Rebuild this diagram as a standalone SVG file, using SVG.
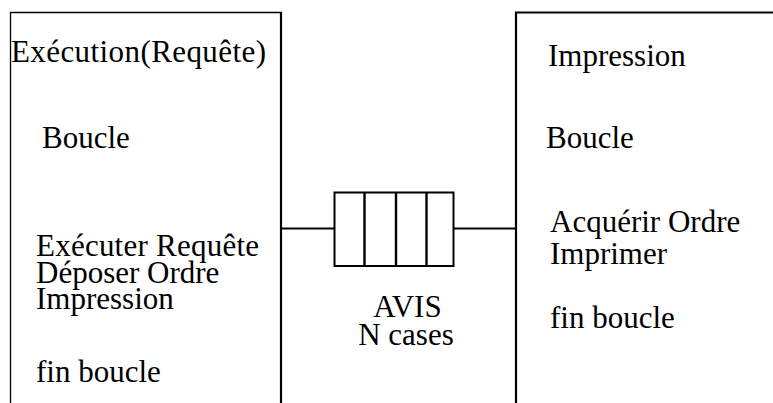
<svg xmlns="http://www.w3.org/2000/svg" width="773" height="403" viewBox="0 0 773 403">
<style>
  text { font-family: 'Liberation Serif', 'Times New Roman', serif; font-size: 31px; fill: #000; }
  .ln { stroke: #000; fill: none; }
</style>
<rect width="773" height="403" fill="#fff"/>
<g id="process-execution">
  <path class="ln" d="M10.5 403 V12.5 H282" stroke-width="1.3"/>
  <path class="ln" d="M281 12 V403" stroke-width="2.2"/>
  <text x="11" y="62" textLength="255">Exécution(Requête)</text>
  <text x="42" y="148">Boucle</text>
  <text x="36" y="256" textLength="223">Exécuter Requête</text>
  <text x="36" y="282.5">Déposer Ordre</text>
  <text x="36" y="309">Impression</text>
  <text x="36" y="382">fin boucle</text>
</g>
<g id="process-impression">
  <path class="ln" d="M516 403 V12.5 H773" stroke-width="2.2"/>
  <text x="548" y="66">Impression</text>
  <text x="546" y="148">Boucle</text>
  <text x="550" y="232">Acquérir Ordre</text>
  <text x="550" y="263.5">Imprimer</text>
  <text x="550" y="328">fin boucle</text>
</g>
<g id="queue-avis">
  <rect class="ln" x="334.5" y="192.5" width="119" height="73.5" stroke-width="2"/>
  <path class="ln" d="M364.5 192.5 V266 M396 192.5 V266 M426.5 192.5 V266" stroke-width="2.4"/>
  <text x="407.5" y="317" text-anchor="middle">AVIS</text>
  <text x="406" y="345" text-anchor="middle">N cases</text>
</g>
<g id="connectors">
  <path class="ln" d="M281 228.5 H334.5" stroke-width="2"/>
  <path class="ln" d="M453.5 228.5 H516" stroke-width="2"/>
</g>
</svg>
